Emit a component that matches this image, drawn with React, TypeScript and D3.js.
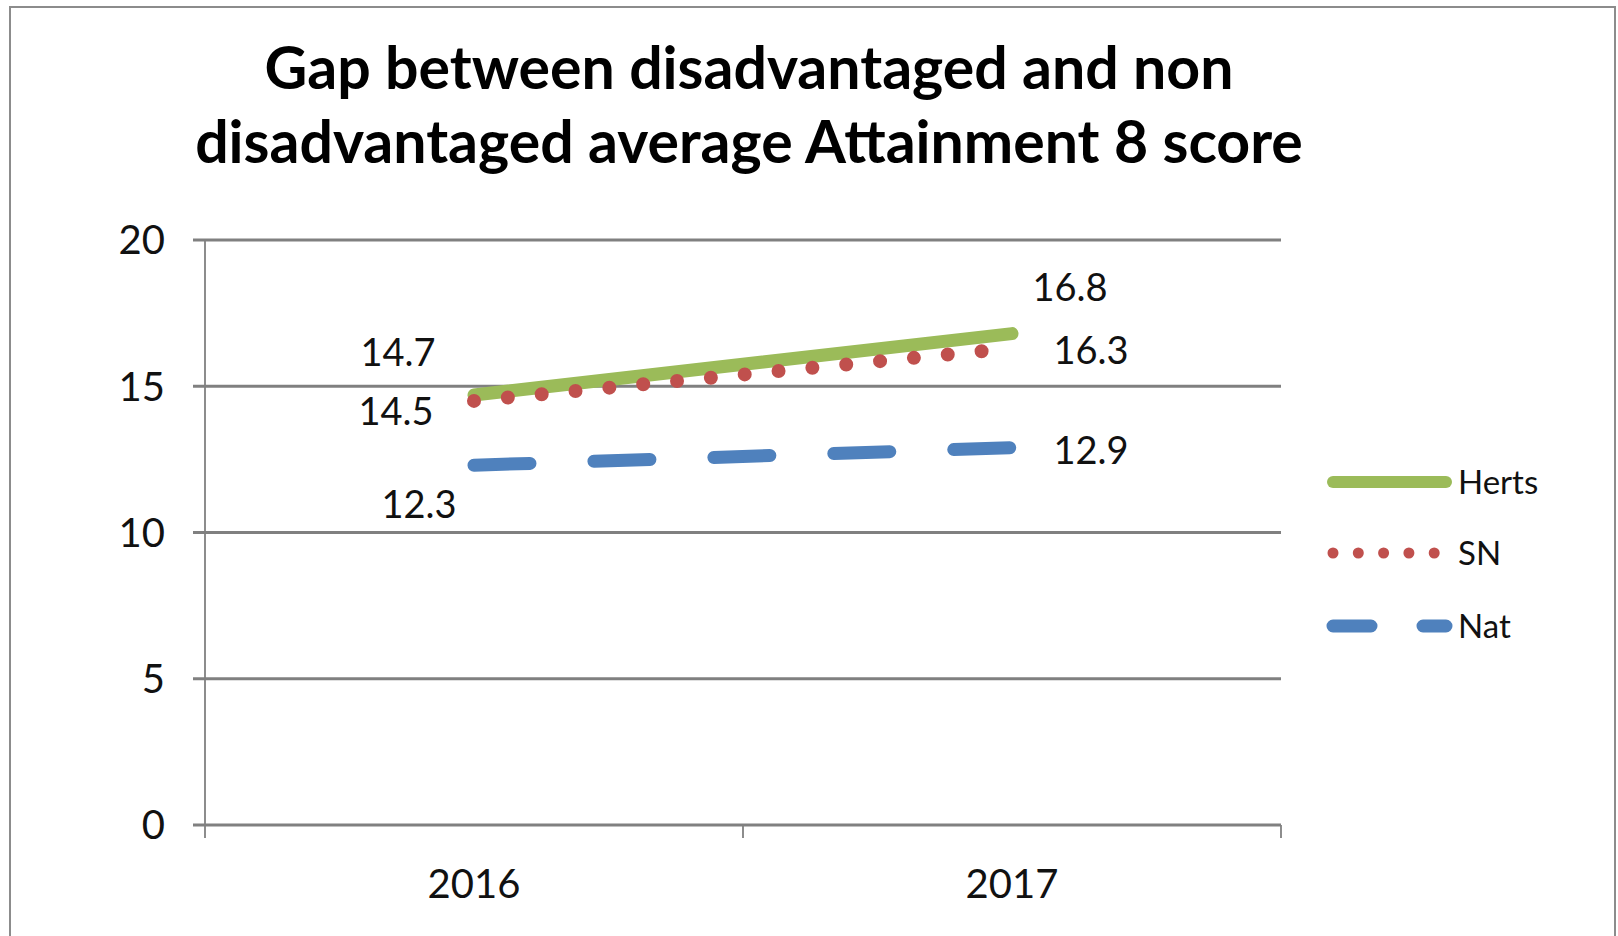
import React, { useEffect, useRef } from "react";
import * as d3 from "d3";

// ---- Data ----
const categories = ["2016", "2017"];
const seriesNames = ["Herts", "SN", "Nat"];
const hertsValues = [14.7, 16.8];
const snValues = [14.5, 16.3];
const natValues = [12.3, 12.9];
const yTicks = [0, 5, 10, 15, 20];
const titleLines = [
  "Gap between disadvantaged and non",
  "disadvantaged average Attainment 8 score",
];

// ---- Layout / style ----
const W = 1618;
const H = 936;
const plot = { left: 205, right: 1281, top: 240, bottom: 825 };
const FONT = "Lato, 'Open Sans', sans-serif";

const seriesStyle = [
  { color: "#9BBB59", width: 13, dash: null as string | null, legendDash: null as string | null, legendWidth: 12 },
  { color: "#C0504D", width: 14, dash: "0 34", legendDash: "0 25.3", legendWidth: 11 },
  { color: "#4F81BD", width: 13, dash: "56 64", legendDash: "38 52", legendWidth: 13 },
];
// label offsets (dx, dy) relative to each point
const labelOffsets = [
  [[-76, -43], [58, -46]],
  [[-78, 10], [79, 2]],
  [[-55, 39], [79, 3]],
];

export default function App() {
  const ref = useRef<SVGSVGElement | null>(null);

  useEffect(() => {
    const svg = d3.select(ref.current);
    svg.selectAll("*").remove();

    svg.append("rect").attr("x", 0).attr("y", 0).attr("width", W).attr("height", H).attr("fill", "#fff");
    // outer chart border
    svg
      .append("rect")
      .attr("x", 10)
      .attr("y", 7)
      .attr("width", 1605)
      .attr("height", 960)
      .attr("fill", "#fff")
      .attr("stroke", "#8c8c8c")
      .attr("stroke-width", 2);

    // title
    const title = svg
      .append("text")
      .attr("text-anchor", "middle")
      .attr("font-family", FONT)
      .attr("font-weight", 700)
      .attr("font-size", 59)
      .attr("fill", "#000");
    titleLines.forEach((t, i) => {
      title.append("tspan").attr("x", 749).attr("y", 89 + i * 74).text(t);
    });

    const x = d3.scaleBand<string>().domain(categories).range([plot.left, plot.right]).padding(0);
    const cx = (c: string) => (x(c) as number) + x.bandwidth() / 2;
    const y = d3.scaleLinear().domain([0, 20]).range([plot.bottom, plot.top]);

    // gridlines + y tick labels
    const g = svg.append("g");
    yTicks.forEach((t) => {
      g.append("line")
        .attr("x1", plot.left - 12)
        .attr("x2", plot.right)
        .attr("y1", y(t))
        .attr("y2", y(t))
        .attr("stroke", "#808080")
        .attr("stroke-width", 2.8);
      g.append("text")
        .attr("x", 165)
        .attr("y", y(t))
        .attr("dy", "0.36em")
        .attr("text-anchor", "end")
        .attr("font-family", FONT)
        .attr("font-size", 40)
        .attr("fill", "#111")
        .text(String(t));
    });
    // y axis line
    g.append("line")
      .attr("x1", plot.left)
      .attr("x2", plot.left)
      .attr("y1", plot.top)
      .attr("y2", plot.bottom)
      .attr("stroke", "#808080")
      .attr("stroke-width", 1.8);
    // x ticks at band boundaries
    const boundaries = [...categories.map((c) => x(c) as number), plot.right];
    boundaries.forEach((b) => {
      g.append("line")
        .attr("x1", b)
        .attr("x2", b)
        .attr("y1", plot.bottom)
        .attr("y2", plot.bottom + 13)
        .attr("stroke", "#808080")
        .attr("stroke-width", 1.8);
    });
    categories.forEach((c) => {
      g.append("text")
        .attr("x", cx(c))
        .attr("y", 898)
        .attr("text-anchor", "middle")
        .attr("font-family", FONT)
        .attr("font-size", 40)
        .attr("fill", "#111")
        .text(c);
    });

    const allValues = [hertsValues, snValues, natValues];
    const line = d3
      .line<number>()
      .x((_, i) => cx(categories[i]))
      .y((v) => y(v));

    // draw Nat first, then Herts, then SN on top
    [2, 0, 1].forEach((si) => {
      const st = seriesStyle[si];
      const p = svg
        .append("path")
        .attr("d", line(allValues[si]))
        .attr("fill", "none")
        .attr("stroke", st.color)
        .attr("stroke-width", st.width)
        .attr("stroke-linecap", "round");
      if (st.dash) p.attr("stroke-dasharray", st.dash);
    });

    // data labels
    allValues.forEach((vals, si) => {
      vals.forEach((v, i) => {
        const [dx, dy] = labelOffsets[si][i];
        svg
          .append("text")
          .attr("x", cx(categories[i]) + dx)
          .attr("y", y(v) + dy)
          .attr("dy", "0.36em")
          .attr("text-anchor", "middle")
          .attr("font-family", FONT)
          .attr("font-size", 38)
          .attr("fill", "#111")
          .text(v.toFixed(1));
      });
    });

    // legend
    const legendY = [482, 553, 626];
    seriesNames.forEach((name, si) => {
      const st = seriesStyle[si];
      const ly = legendY[si];
      const l = svg
        .append("line")
        .attr("x1", 1333)
        .attr("x2", 1446)
        .attr("y1", ly)
        .attr("y2", ly)
        .attr("stroke", st.color)
        .attr("stroke-width", st.legendWidth)
        .attr("stroke-linecap", "round");
      if (st.legendDash) l.attr("stroke-dasharray", st.legendDash);
      svg
        .append("text")
        .attr("x", 1458)
        .attr("y", ly)
        .attr("dy", "0.36em")
        .attr("font-family", FONT)
        .attr("font-size", 33)
        .attr("fill", "#111")
        .text(name);
    });
  }, []);

  return (
    <svg
      ref={ref}
      width={W}
      height={H}
      style={{ position: "absolute", left: 0, top: 0, display: "block" }}
    />
  );
}
